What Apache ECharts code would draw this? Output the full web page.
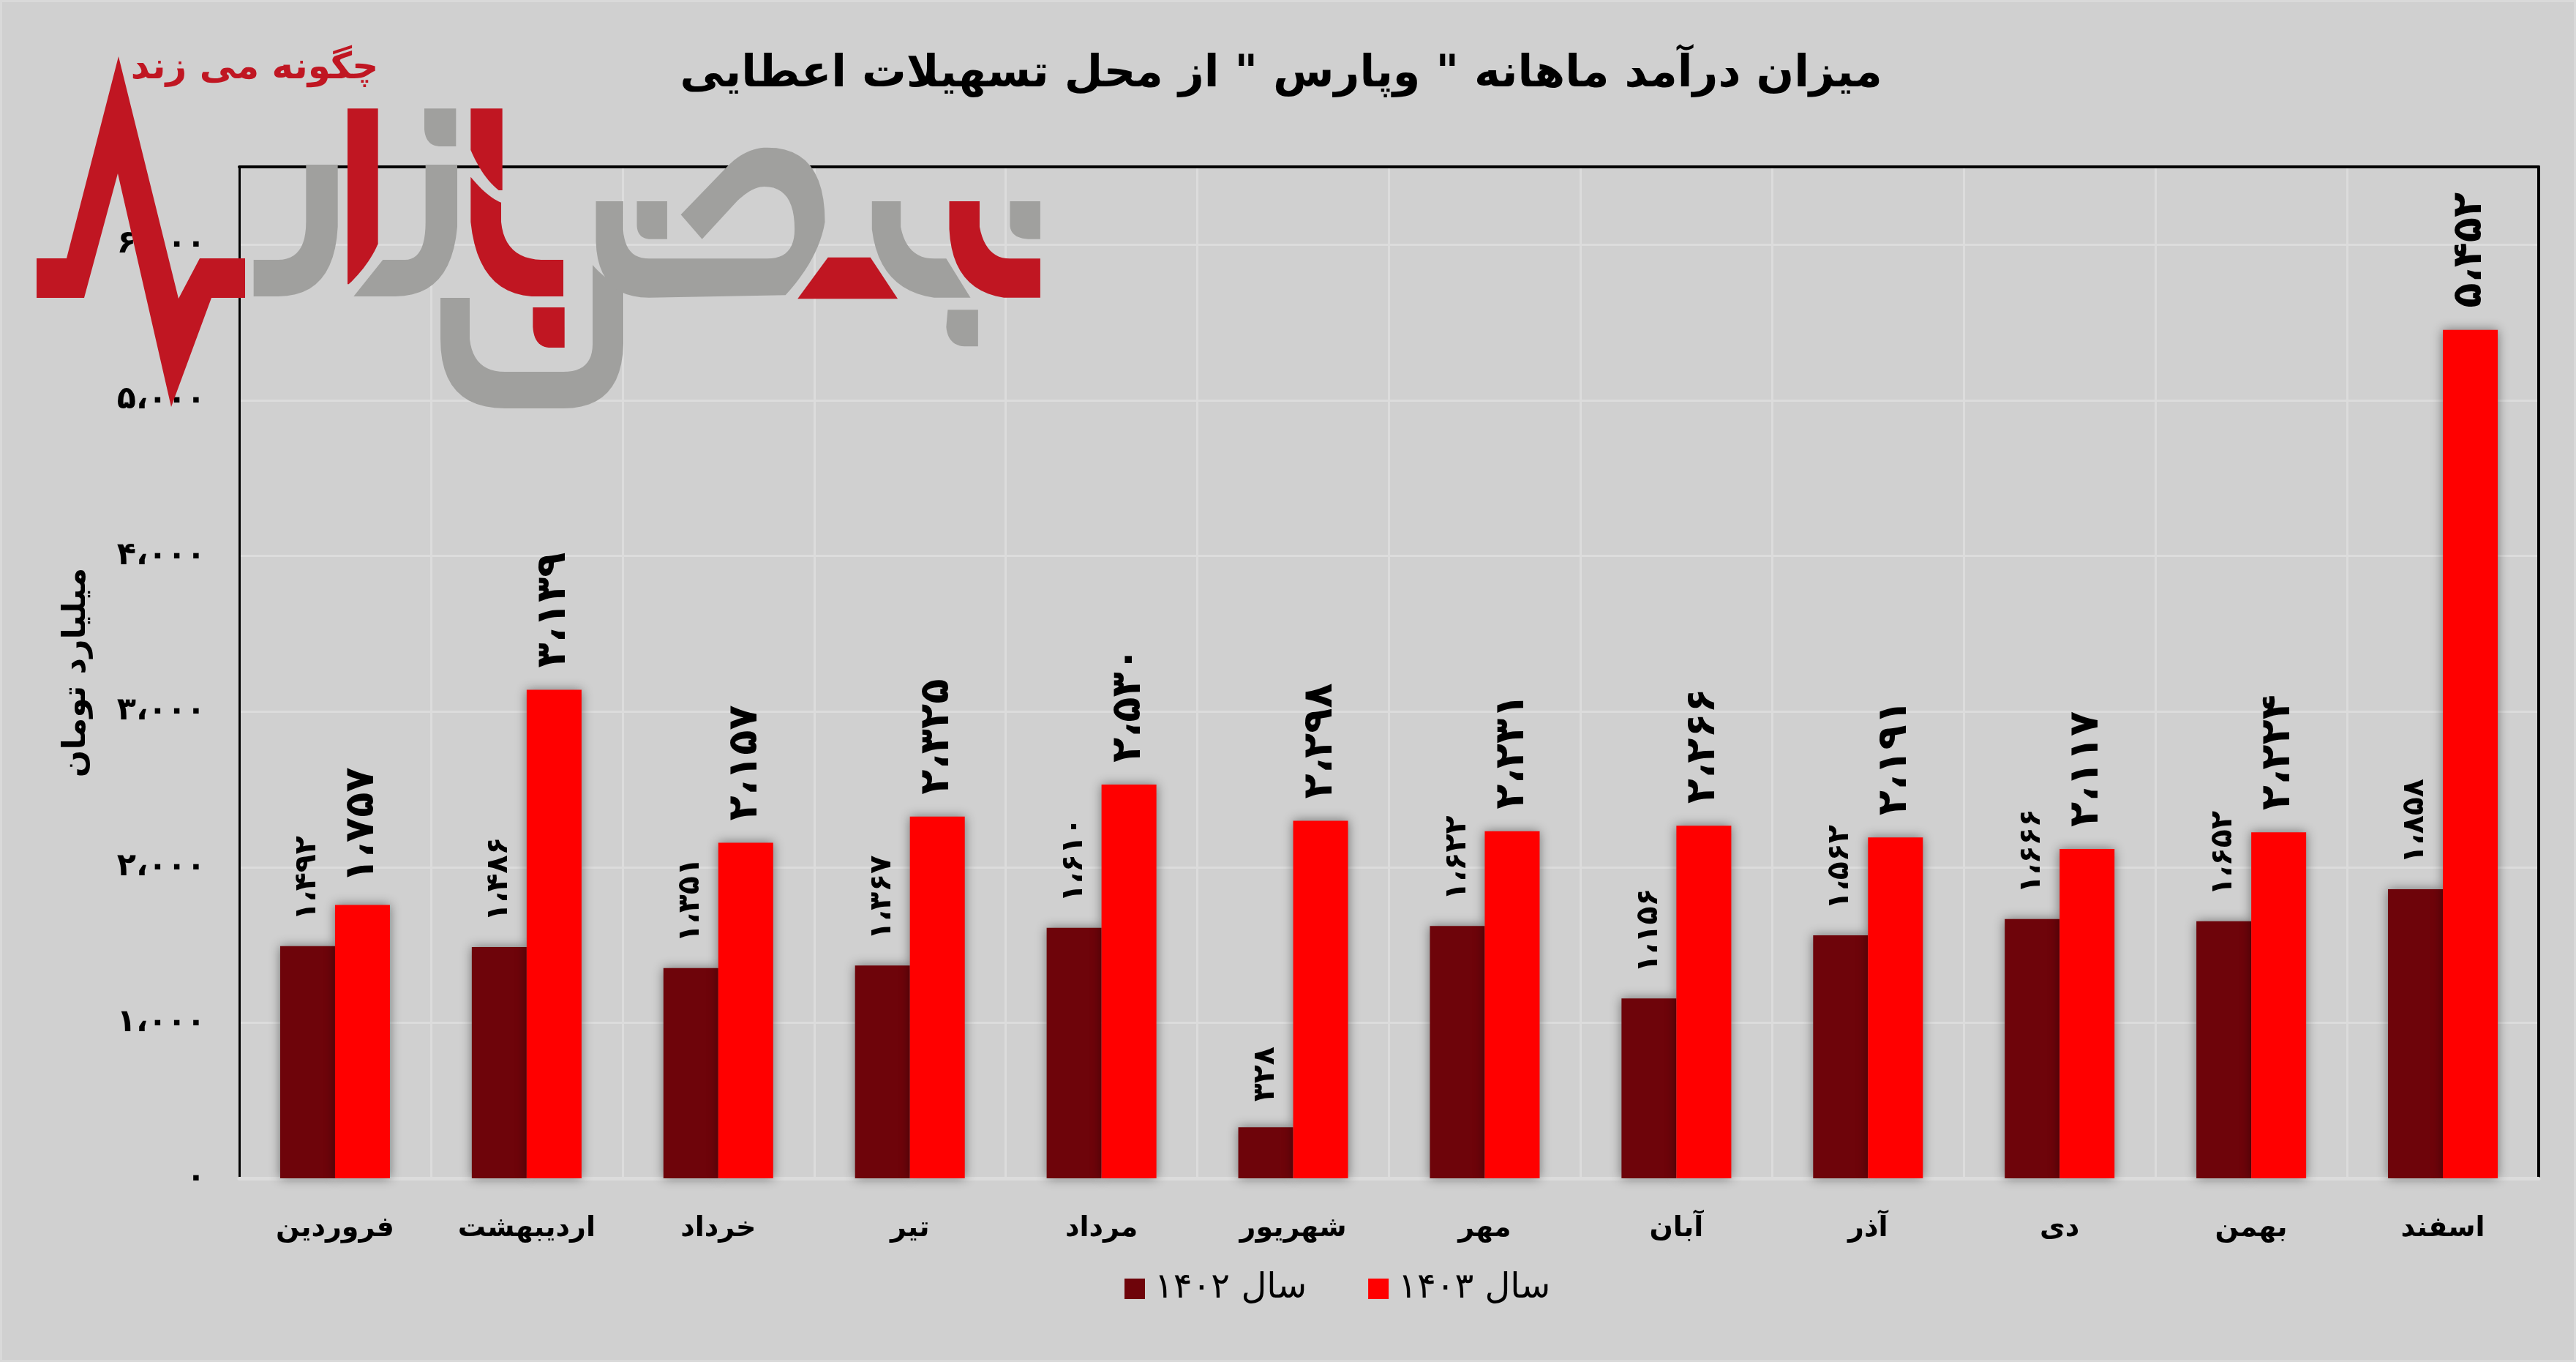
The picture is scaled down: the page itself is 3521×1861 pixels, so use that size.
<!DOCTYPE html>
<html lang="fa"><head><meta charset="utf-8">
<style>html,body{margin:0;padding:0;background:#d0d0d0}#c{width:3521px;height:1861px}</style>
<script src="https://cdn.jsdelivr.net/npm/echarts@6/dist/echarts.min.js"></script>
</head><body><div id="c"></div>
<script>
const months = ['فروردین','اردیبهشت','خرداد','تیر','مرداد','شهریور','مهر','آبان','آذر','دی','بهمن','اسفند'];
const year1402 = [1492,1486,1351,1367,1610,328,1622,1156,1562,1666,1652,1858];
const year1403 = [1757,3139,2157,2325,2530,2298,2231,2266,2191,2117,2224,5452];
const titleText = 'میزان درآمد ماهانه " وپارس " از محل تسهیلات اعطایی';
const unitText = 'میلیارد تومان';
const legendNames = ['سال ۱۴۰۲','سال ۱۴۰۳'];
const logoText = 'چگونه می زند';

const FONT = '"DejaVu Sans"';
const fa = v => {
  const s = String(Math.round(v)).replace(/\B(?=(\d{3})+$)/g,'،');
  return s.replace(/\d/g, d => '۰۱۲۳۴۵۶۷۸۹'[d]);
};

// watermark logo outline helpers: [x,y] = line, [cx,cy,x,y] = quadratic curve
function outline(ox, oy, sx, sy, list){
  const out = []; let cur = null;
  list.forEach(p => {
    if (p.length === 2){ cur = [ox+p[0]/sx, oy+p[1]/sy]; out.push(cur); }
    else {
      const c=[ox+p[0]/sx,oy+p[1]/sy], e=[ox+p[2]/sx,oy+p[3]/sy], s=cur;
      for(let i=1;i<=12;i++){const t=i/12,u=1-t;
        out.push([u*u*s[0]+2*u*t*c[0]+t*t*e[0],u*u*s[1]+2*u*t*c[1]+t*t*e[1]]);}
      cur = e;
    }
  });
  return out;
}
const RED='#c01622', GREY='#a0a09e';
const logoParts = [
 [RED,0,0,1,1,[[162,77],[244,408],[273,353],[335,353],[335,407],[289,407],[234,556],[161,237],[115,407],[50,407],[50,353],[91,353]]],
 [GREY,300,130,3,3,[[140,675],[240,675],[355,675,355,520],[355,285],[485,285],[485,540],[470,825,240,825],[140,825]]],
 [RED,300,130,3,3,[[525,55],[650,55],[650,610],[610,700,530,775],[525,775]]],
 [GREY,300,130,3,3,[[550,825],[670,675],[760,675],[845,675,845,520],[845,285],[975,285],[975,540],[950,825,720,825]]],
 [GREY,300,130,3,3,[[840,55],[970,55],[970,210],[900,210],[845,205,840,140]]],
 [RED,300,130,3,3,[[1030,55],[1160,55],[1160,390],[1145,390],[1080,340,1030,225]]],
 [RED,300,130,3,3,[[1030,335],[1100,420,1155,440],[1155,520],[1170,670,1320,675],[1410,675],[1410,825],[1280,825],[1060,810,1030,520]]],
 [RED,300,130,3,3,[[1285,870],[1415,870],[1415,1035],[1350,1035],[1290,1030,1285,950]]],
 [GREY,0,0,1,1,[[602,407],[642,407],[642,463],[647,508,690,508],[770,508],[810,508,810,470],[810,362],[830,385,852,392],[852,470],[850,558,770,558],[690,558],[602,558,602,463]]],
 [GREY,800,180,2.412,3,[[35,285],[125,285],[125,400],[130,520,210,520],[600,520],[690,520,690,400],[690,225,590,225],[550,225,500,285],[385,440],[315,340],[470,140],[530,65,600,65],[790,65,790,370],[770,520,660,670],[210,680],[40,680,35,450]]],
 [GREY,800,180,2.412,3,[[170,285],[270,285],[270,440],[210,440],[170,435,170,380]]],
 [RED,800,180,2.412,3,[[800,515],[940,515],[1030,685],[700,685]]],
 [GREY,800,180,2.412,3,[[945,285],[1040,285],[1040,390],[1060,520,1150,520],[1190,520],[1270,680],[1150,680],[970,650,945,400]]],
 [RED,800,180,2.412,3,[[1200,285],[1300,285],[1300,390],[1320,520,1400,520],[1500,520],[1500,680],[1380,680],[1210,650,1200,400]]],
 [GREY,800,180,2.412,3,[[1400,285],[1500,285],[1500,440],[1460,440],[1400,435,1400,380]]],
 [GREY,800,180,2.412,3,[[1195,730],[1295,730],[1295,880],[1250,880],[1195,875,1190,800]]],
];

const chart = echarts.init(document.getElementById('c'), null, {renderer:'canvas', devicePixelRatio:1});

const barShadow = {shadowBlur:14, shadowColor:'rgba(0,0,0,0.45)'};
chart.setOption({
  animation:false,
  backgroundColor:'#d0d0d0',
  textStyle:{fontFamily:FONT},
  title:{text:titleText,left:1751,top:72,textAlign:'center',padding:0,
    textStyle:{fontFamily:FONT,fontWeight:'bold',fontSize:60.5,color:'#000'}},
  legend:{left:1537,top:1737,padding:0,itemWidth:28,itemHeight:28,itemGap:84,icon:'rect',
    data:[legendNames[0],legendNames[1]],
    textStyle:{fontFamily:FONT,fontSize:48,color:'#000',padding:[0,0,0,8]}},
  grid:{left:327,top:228,width:3143,height:1382,containLabel:false},
  xAxis:[
    {type:'category',data:months,boundaryGap:true,
     axisLine:{show:true,lineStyle:{color:'#dcdcdc',width:5}},axisTick:{show:false},
     splitLine:{show:true,interval:0,lineStyle:{color:'#dcdcdc',width:3}},
     axisLabel:{interval:0,margin:50,fontFamily:FONT,fontWeight:'bold',fontSize:38,color:'#000'}},
    {type:'category',position:'top',data:months,
     axisLine:{show:true,onZero:false,lineStyle:{color:'#000',width:4}},axisTick:{show:false},axisLabel:{show:false},splitLine:{show:false}}
  ],
  yAxis:[
    {type:'value',min:0,max:6500,interval:1000,name:unitText,nameLocation:'middle',nameGap:200,
     nameTextStyle:{fontFamily:FONT,fontWeight:'bold',fontSize:44,color:'#000'},
     axisLine:{show:true,onZero:false,lineStyle:{color:'#000',width:3}},axisTick:{show:false},
     splitLine:{show:true,lineStyle:{color:'#dcdcdc',width:3}},
     axisLabel:{margin:46,fontFamily:FONT,fontWeight:'bold',fontSize:43,color:'#000',showMaxLabel:false,
       formatter:v=>fa(v)}},
    {type:'value',position:'right',min:0,max:6500,interval:1000,
     axisLine:{show:true,onZero:false,lineStyle:{color:'#000',width:4}},axisTick:{show:false},axisLabel:{show:false},splitLine:{show:false}}
  ],
  series:[
    {name:legendNames[0],type:'bar',data:year1402,barWidth:75,barGap:'0%',
     itemStyle:Object.assign({color:'#6e040a'},barShadow),
     label:{show:true,position:'top',rotate:90,align:'left',verticalAlign:'middle',distance:32,offset:[3,0],
       fontFamily:FONT,fontWeight:'bold',fontSize:41,color:'#000',formatter:p=>fa(p.value)}},
    {name:legendNames[1],type:'bar',data:year1403,barWidth:75,
     itemStyle:Object.assign({color:'#ff0000'},barShadow),
     label:{show:true,position:'top',rotate:90,align:'left',verticalAlign:'middle',distance:27,offset:[3,0],
       fontFamily:FONT,fontWeight:'bold',fontSize:56,color:'#000',formatter:p=>fa(p.value)}}
  ],
  graphic:{elements:[
    {type:'rect',shape:{x:0,y:0,width:3521,height:1861},style:{fill:'none',stroke:'#d9d9d9',lineWidth:6},z:1,silent:true},
    ...logoParts.map(p=>({type:'polygon',z:50,silent:true,
       shape:{points:outline(p[1],p[2],p[3],p[4],p[5])},style:{fill:p[0]}})),
    {type:'text',z:50,silent:true,x:348,y:94,
      style:{text:logoText,fill:RED,font:'bold 50px '+FONT,textAlign:'center',textVerticalAlign:'middle'}}
  ]}
});
</script></body></html>
